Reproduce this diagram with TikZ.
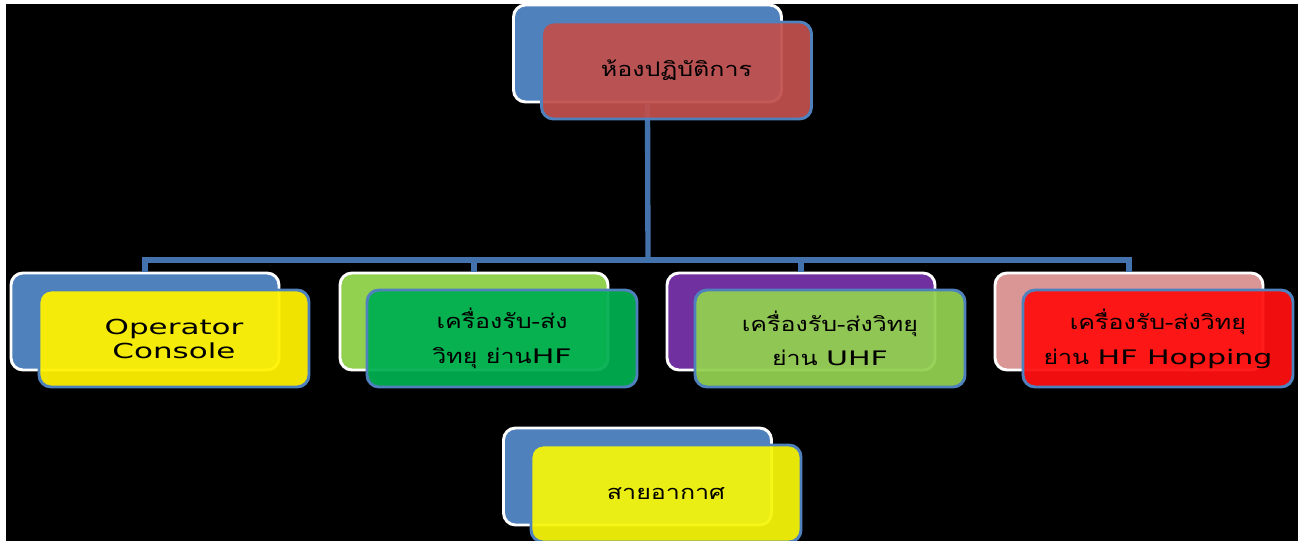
\documentclass[tikz,border=0pt]{standalone}
\usepackage{fontspec}
\newfontfamily\thaifont[Script=Thai,FakeStretch=1.25]{Loma}
\newfontfamily\latinfont[FakeStretch=1.5]{DejaVu Sans}
\usetikzlibrary{positioning}
\definecolor{boxblue}{RGB}{79,129,189}
\definecolor{linkblue}{RGB}{68,114,173}
\definecolor{topred}{RGB}{192,80,77}
\definecolor{lightgreen}{RGB}{146,208,80}
\definecolor{darkgreen}{RGB}{0,176,80}
\definecolor{violet}{RGB}{112,48,160}
\definecolor{rose}{RGB}{217,150,148}
\definecolor{brightred}{RGB}{255,15,15}
\definecolor{lemon}{RGB}{245,245,10}
\newcommand{\lat}[1]{{\latinfont #1}}

\begin{document}
\begin{tikzpicture}[x=0.75pt,y=-0.75pt,
	back box/.style={rectangle,rounded corners=9pt,draw=white,line width=2.2pt,minimum width=201pt,minimum height=72.75pt},
	front box/.style={rectangle,rounded corners=9pt,draw=boxblue,line width=2.2pt,fill opacity=0.94,text opacity=1,minimum width=202.5pt,minimum height=72.75pt,align=center,font=\thaifont\fontsize{15}{26}\selectfont},
	link/.style={draw=linkblue,line width=4pt}]

	\useasboundingbox (0,0) rectangle (1306,541);
	\fill[white] (0,0) rectangle (1306,541);
	\fill[black] (6,4) rectangle (1298,541);

	% back boxes
	\node[back box,fill=boxblue] (b0) at (647.5,53.5) {};
	\node[back box,fill=boxblue] (b1) at (145,321.5) {};
	\node[back box,fill=lightgreen] (b2) at (474,321.5) {};
	\node[back box,fill=violet] (b3) at (801,321.5) {};
	\node[back box,fill=rose] (b4) at (1129,321.5) {};
	\node[back box,fill=boxblue] (b5) at (637.5,476.5) {};

	% connectors
	\coordinate (bus) at (648,260);
	\draw[link] (b0.south) -- (bus);
	\draw[link] (b1.north) |- (bus) -| (b4.north);
	\draw[link] (b2.north) -- (b2.north |- bus);
	\draw[link] (b3.north) -- (b3.north |- bus);

	% front boxes
	\node[front box,fill=topred] (f0) at ([shift={(29,17)}]b0.center) {ห้องปฏิบัติการ};
	\node[front box,fill=yellow,font=\latinfont\fontsize{15.5}{18}\selectfont] (f1) at ([shift={(29,17)}]b1.center) {Operator\\Console};
	\node[front box,fill=darkgreen] (f2) at ([shift={(28,17)}]b2.center) {เครื่องรับ-ส่ง\\วิทยุ ย่าน\lat{HF}};
	\node[front box,fill=lightgreen] (f3) at ([shift={(29,17)}]b3.center) {เครื่องรับ-ส่งวิทยุ\\ย่าน \lat{UHF}};
	\node[front box,fill=brightred] (f4) at ([shift={(29,17)}]b4.center) {เครื่องรับ-ส่งวิทยุ\\ย่าน \lat{HF Hopping}};
	\node[front box,fill=lemon] (f5) at ([shift={(28.5,17)}]b5.center) {สายอากาศ};
\end{tikzpicture}
\end{document}
